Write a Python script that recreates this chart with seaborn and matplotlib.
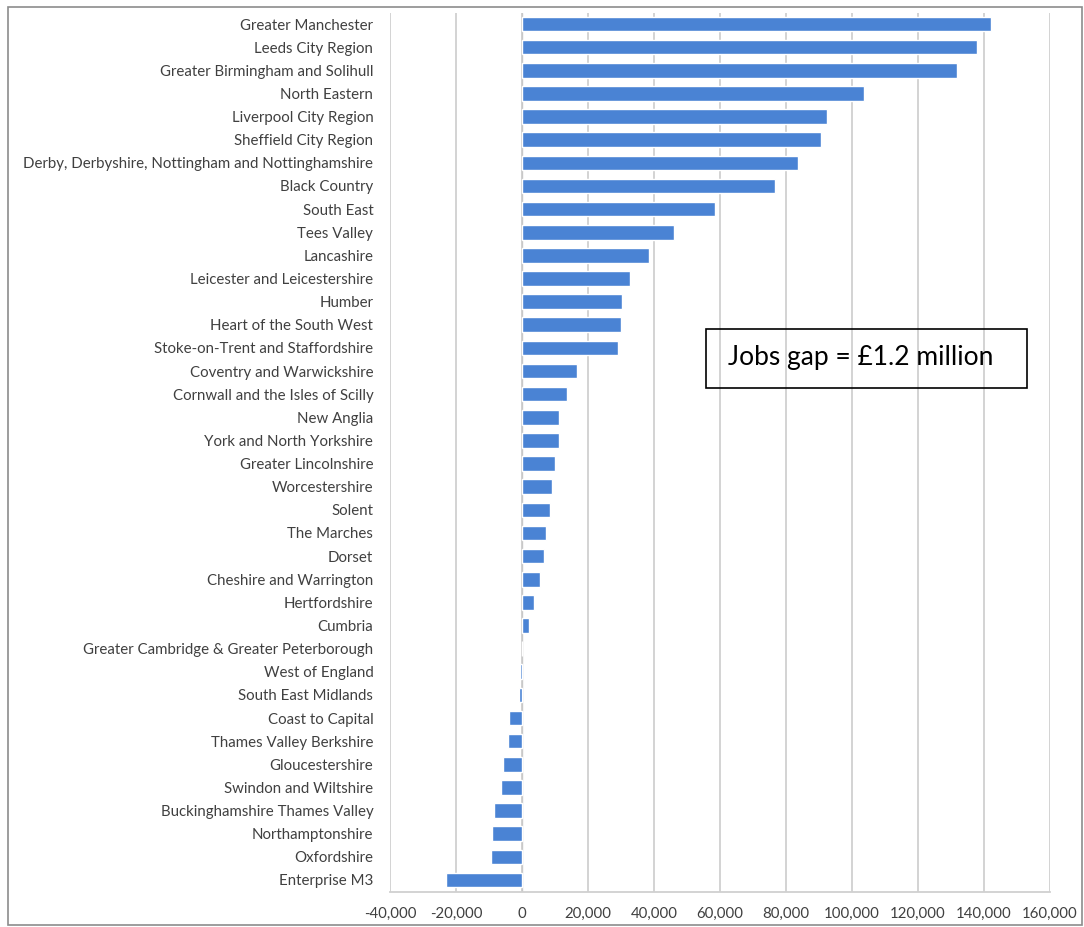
import numpy as np
import matplotlib
matplotlib.use("Agg")
import matplotlib.pyplot as plt
import seaborn as sns
import pandas as pd
from matplotlib.patches import Rectangle

# LEP regions and the jobs gap for each
regions = [
    "Greater Manchester", "Leeds City Region", "Greater Birmingham and Solihull",
    "North Eastern", "Liverpool City Region", "Sheffield City Region",
    "Derby, Derbyshire, Nottingham and Nottinghamshire", "Black Country",
    "South East", "Tees Valley", "Lancashire", "Leicester and Leicestershire",
    "Humber", "Heart of the South West", "Stoke-on-Trent and Staffordshire",
    "Coventry and Warwickshire", "Cornwall and the Isles of Scilly", "New Anglia",
    "York and North Yorkshire", "Greater Lincolnshire", "Worcestershire", "Solent",
    "The Marches", "Dorset", "Cheshire and Warrington", "Hertfordshire", "Cumbria",
    "Greater Cambridge & Greater Peterborough", "West of England",
    "South East Midlands", "Coast to Capital", "Thames Valley Berkshire",
    "Gloucestershire", "Swindon and Wiltshire", "Buckinghamshire Thames Valley",
    "Northamptonshire", "Oxfordshire", "Enterprise M3",
]
jobs_gap = [
    142000, 138000, 131800, 103600, 92300, 90600, 83600, 76700, 58400, 46000,
    38500, 32700, 30300, 30000, 29100, 16600, 13500, 11300, 11200, 10000,
    9100, 8400, 7300, 6800, 5500, 3600, 2000, 0, -600, -900,
    -3900, -4300, -5900, -6300, -8600, -9200, -9500, -22900,
]
x_ticks = [-40000, -20000, 0, 20000, 40000, 60000, 80000, 100000, 120000, 140000, 160000]
note = "Jobs gap = \u00a31.2 million"

df = pd.DataFrame({"region": regions, "gap": jobs_gap})

sns.set_style("white")
plt.rcParams["font.family"] = ["Lato", "DejaVu Sans"]

fig = plt.figure(figsize=(10.84, 9.27), dpi=100)
ax = fig.add_axes([390 / 1084, 1 - 891.5 / 927, 660 / 1084, 879 / 927])

sns.barplot(data=df, x="gap", y="region", orient="h", color="#4a83d4",
            saturation=1, width=0.63, ax=ax, zorder=3)

ax.set_xlim(-40000, 160000)
ax.set_ylim(len(regions) - 0.5, -0.5)
ax.set_xticks(x_ticks)
ax.set_xticklabels([f"{v:,}" for v in x_ticks], fontsize=10.8, color="#404040")
ax.tick_params(axis="y", length=0, pad=12, labelsize=10.8, labelcolor="#404040")
ax.tick_params(axis="x", length=4, color="#d0d0d0", pad=7)
ax.set_xlabel("")
ax.set_ylabel("")

ax.grid(axis="x", color="#d0d0d0", lw=1.3, zorder=0)
ax.set_axisbelow(True)
for side in ["top", "right", "left"]:
    ax.spines[side].set_visible(False)
ax.spines["bottom"].set_color("#d0d0d0")
ax.spines["bottom"].set_linewidth(1.3)
ax.axvline(0, color="#c8c8c8", lw=1, zorder=2)

# note box
fig.patches.append(Rectangle((706 / 1084, 1 - 388 / 927), 321 / 1084, 59 / 927,
                             transform=fig.transFigure, fill=False,
                             edgecolor="black", lw=1.2))
fig.text(861 / 1084, 1 - 358 / 927, note, ha="center", va="center",
         fontsize=19, color="black")

# chart border
fig.patches.append(Rectangle((8 / 1084, 2 / 927), 1074 / 1084, 918 / 927,
                             transform=fig.transFigure, fill=False,
                             edgecolor="#8c8c8c", lw=1.2))

fig.savefig("out.png", dpi=100)
